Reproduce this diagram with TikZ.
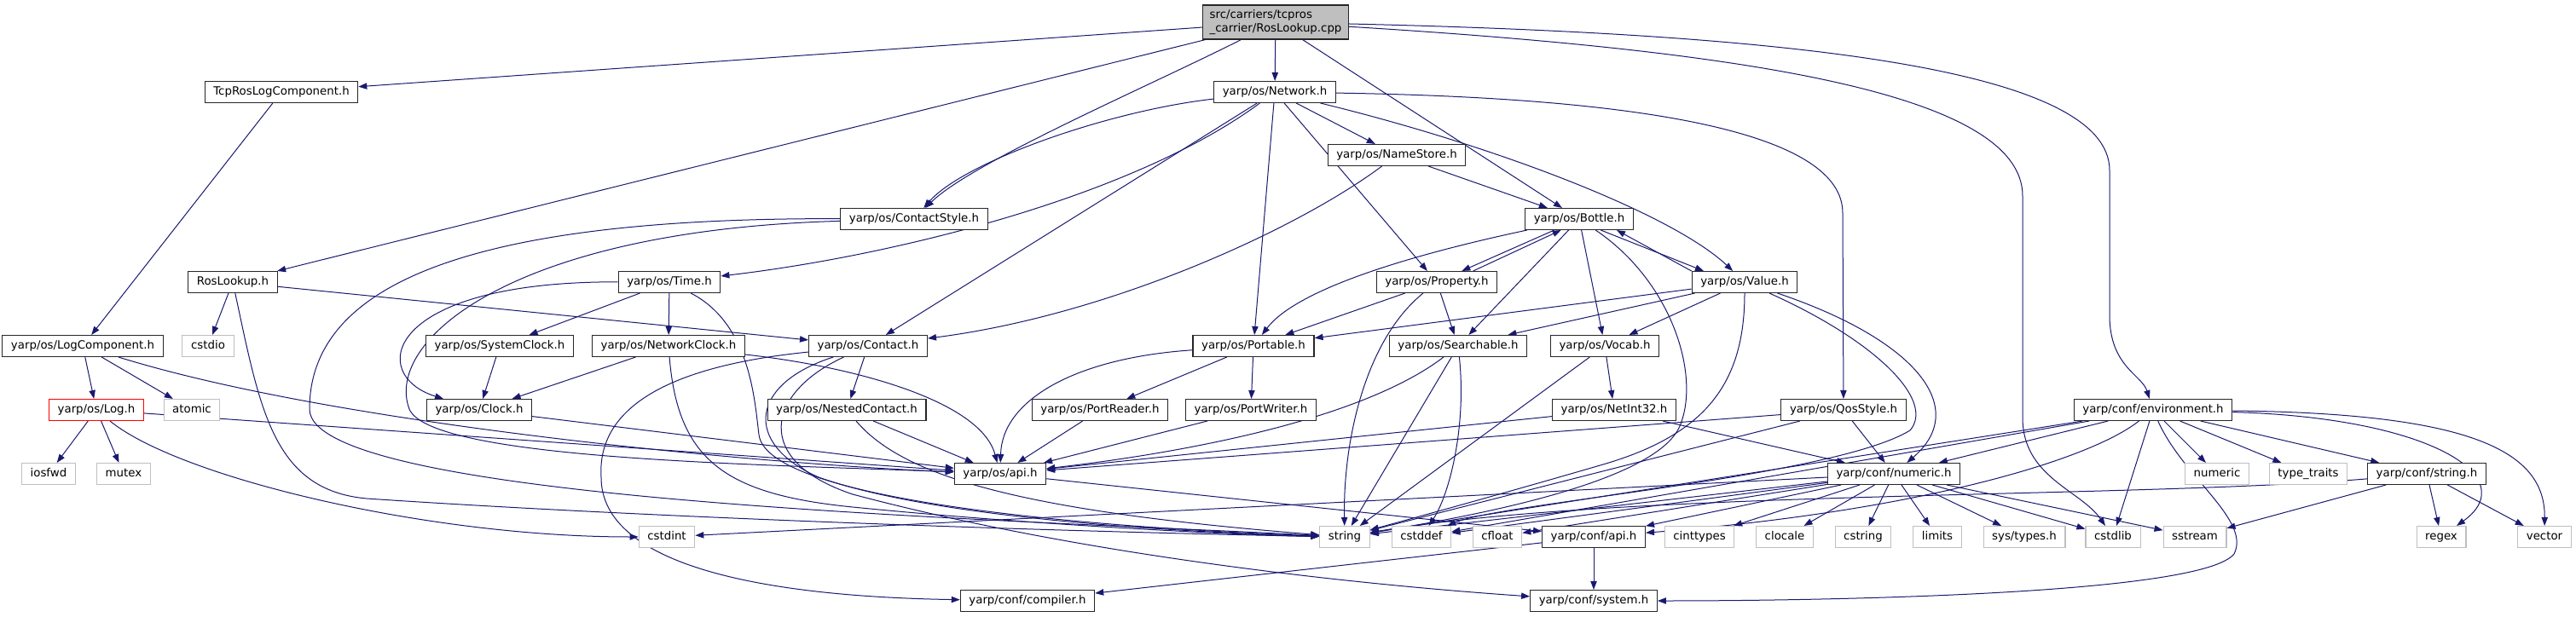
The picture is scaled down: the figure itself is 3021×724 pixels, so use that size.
\documentclass[tikz,border=0pt]{standalone}
\usepackage{fontspec}
\setmainfont{DejaVu Sans}
\usepackage{tikz}
\usetikzlibrary{arrows.meta,backgrounds}
\definecolor{edgeblue}{HTML}{191970}
\definecolor{boxgray}{HTML}{BFBFBF}
\tikzset{
  hdrbox/.style={draw=black!85, line width=0.8pt, fill=white, minimum height=18.75pt, inner xsep=7.6pt, inner ysep=0pt, text height=7.6pt, text depth=2.3pt},
  sysbox/.style={hdrbox, draw=boxgray},
  cutbox/.style={hdrbox, draw=red},
  rootbox/.style={draw=black!85, line width=0.8pt, fill=boxgray, align=left, minimum height=30pt, inner xsep=6pt, inner ysep=2pt},
  incl/.style={-{Triangle[length=7.5pt, width=5.5pt]}, draw=edgeblue, line width=0.75pt}
}

\begin{document}
\begin{tikzpicture}[x=0.75pt, y=-0.75pt, every node/.style={font=\fontsize{10}{12}\selectfont}]
      \useasboundingbox (0,0) rectangle (3021,724);
      \node[rootbox] (root) at (1496,26) {src/carriers/tcpros\\\_carrier/RosLookup.cpp};
      \node[hdrbox] (tcplog) at (330,108) {TcpRosLogComponent.h};
      \node[hdrbox] (network) at (1495,108) {yarp/os/Network.h};
      \node[hdrbox] (namestore) at (1638,182) {yarp/os/NameStore.h};
      \node[hdrbox] (cstyle) at (1072,257) {yarp/os/ContactStyle.h};
      \node[hdrbox] (bottle) at (1852,257) {yarp/os/Bottle.h};
      \node[hdrbox] (roslookup) at (273,331) {RosLookup.h};
      \node[hdrbox] (timeh) at (785,331) {yarp/os/Time.h};
      \node[hdrbox] (property) at (1685,331) {yarp/os/Property.h};
      \node[hdrbox] (value) at (2046,331) {yarp/os/Value.h};
      \node[hdrbox] (logcomp) at (97,406) {yarp/os/LogComponent.h};
      \node[sysbox] (cstdio) at (244,406) {cstdio};
      \node[hdrbox] (sysclock) at (586,406) {yarp/os/SystemClock.h};
      \node[hdrbox] (netclock) at (784,406) {yarp/os/NetworkClock.h};
      \node[hdrbox] (contact) at (1018,406) {yarp/os/Contact.h};
      \node[hdrbox] (portable) at (1470,406) {yarp/os/Portable.h};
      \node[hdrbox] (searchable) at (1710,406) {yarp/os/Searchable.h};
      \node[hdrbox] (vocab) at (1882,406) {yarp/os/Vocab.h};
      \node[cutbox] (logh) at (113,481) {yarp/os/Log.h};
      \node[sysbox] (atomic) at (225,481) {atomic};
      \node[hdrbox] (clock) at (562,481) {yarp/os/Clock.h};
      \node[hdrbox] (nested) at (993,481) {yarp/os/NestedContact.h};
      \node[hdrbox] (preader) at (1290,481) {yarp/os/PortReader.h};
      \node[hdrbox] (pwriter) at (1467,481) {yarp/os/PortWriter.h};
      \node[hdrbox] (netint) at (1893,481) {yarp/os/NetInt32.h};
      \node[hdrbox] (qos) at (2162,481) {yarp/os/QosStyle.h};
      \node[hdrbox] (environ) at (2525,481) {yarp/conf/environment.h};
      \node[sysbox] (iosfwd) at (57,556) {iosfwd};
      \node[sysbox] (mutex) at (145,556) {mutex};
      \node[hdrbox] (osapi) at (1173,556) {yarp/os/api.h};
      \node[hdrbox] (numerich) at (2221,556) {yarp/conf/numeric.h};
      \node[sysbox] (numeric) at (2600,556) {numeric};
      \node[sysbox] (typetraits) at (2707,556) {type\_traits};
      \node[hdrbox] (confstring) at (2846,556) {yarp/conf/string.h};
      \node[sysbox] (cstdint) at (782,630) {cstdint};
      \node[sysbox] (string) at (1577,630) {string};
      \node[sysbox] (cstddef) at (1667,630) {cstddef};
      \node[sysbox] (cfloat) at (1756,630) {cfloat};
      \node[hdrbox] (confapi) at (1869,630) {yarp/conf/api.h};
      \node[sysbox] (cinttypes) at (1993,630) {cinttypes};
      \node[sysbox] (clocale) at (2093,630) {clocale};
      \node[sysbox] (cstring) at (2185,630) {cstring};
      \node[sysbox] (limits) at (2272,630) {limits};
      \node[sysbox] (systypes) at (2374,630) {sys/types.h};
      \node[sysbox] (cstdlib) at (2478,630) {cstdlib};
      \node[sysbox] (sstream) at (2574,630) {sstream};
      \node[sysbox] (regex) at (2863,630) {regex};
      \node[sysbox] (vector) at (2984,630) {vector};
      \node[hdrbox] (compiler) at (1205,705) {yarp/conf/compiler.h};
      \node[hdrbox] (system) at (1869,705) {yarp/conf/system.h};
      \begin{pgfonlayer}{background}
      % RosLookup.cpp
      \draw[incl] (root) -- (tcplog);
      \draw[incl] (root) -- (roslookup);
      \draw[incl] (root) .. controls (1350,100) and (1140,190) .. (cstyle);
      \draw[incl] (root) -- (network);
      \draw[incl] (root) -- (bottle);
      \draw[incl] (root) .. controls (2100,40) and (2474,80) .. (2474,200) -- (2474,370) .. controls (2474,430) and (2512,440) .. (environ);
      \draw[incl] (root) .. controls (2050,60) and (2372,110) .. (2372,230) -- (2372,490) .. controls (2372,560) and (2440,575) .. (cstdlib);
      % Network.h
      \draw[incl] (network) .. controls (1300,130) and (1130,190) .. (cstyle);
      \draw[incl] (network) .. controls (1330,230) and (1050,300) .. (timeh);
      \draw[incl] (network) -- (contact);
      \draw[incl] (network) -- (portable);
      \draw[incl] (network) -- (property);
      \draw[incl] (network) -- (namestore);
      \draw[incl] (network) .. controls (1750,170) and (1960,250) .. (value);
      \draw[incl] (network) .. controls (1950,115) and (2161,160) .. (2161,250) -- (qos);
      \draw[incl] (namestore) .. controls (1520,270) and (1300,370) .. (contact);
      \draw[incl] (namestore) -- (bottle);
      % log side
      \draw[incl] (tcplog) -- (logcomp);
      \draw[incl] (roslookup) -- (contact);
      \draw[incl] (roslookup) -- (cstdio);
      \draw[incl] (roslookup) .. controls (305,480) and (320,575) .. (430,585) .. controls (800,610) and (1300,625) .. (string);
      \draw[incl] (logcomp) -- (logh);
      \draw[incl] (logcomp) -- (atomic);
      \draw[incl] (logcomp) .. controls (400,500) and (900,545) .. (osapi);
      \draw[incl] (logh) -- (iosfwd);
      \draw[incl] (logh) -- (mutex);
      \draw[incl] (logh) .. controls (210,560) and (500,630) .. (cstdint);
      \draw[incl] (logh) -- (osapi);
      % clocks
      \draw[incl] (timeh) .. controls (450,330) and (430,440) .. (clock);
      \draw[incl] (timeh) -- (sysclock);
      \draw[incl] (timeh) -- (netclock);
      \draw[incl] (timeh) .. controls (880,380) and (885,470) .. (890,510) .. controls (900,590) and (1300,620) .. (string);
      \draw[incl] (sysclock) -- (clock);
      \draw[incl] (netclock) -- (clock);
      \draw[incl] (netclock) .. controls (1000,430) and (1150,470) .. (osapi);
      \draw[incl] (netclock) .. controls (795,540) and (850,580) .. (1000,595) .. controls (1200,615) and (1450,628) .. (string);
      \draw[incl] (clock) -- (osapi);
      % contacts
      \draw[incl] (cstyle) .. controls (600,270) and (450,400) .. (480,480) .. controls (505,540) and (900,545) .. (osapi);
      \draw[incl] (cstyle) .. controls (560,255) and (363,330) .. (363,480) .. controls (363,590) and (1200,610) .. (string);
      \draw[incl] (contact) -- (nested);
      \draw[incl] (contact) .. controls (780,430) and (700,480) .. (705,560) .. controls (705,665) and (900,700) .. (compiler);
      \draw[incl] (contact) .. controls (880,450) and (870,520) .. (960,560) .. controls (1100,610) and (1400,625) .. (string);
      \draw[incl] (contact) .. controls (900,460) and (880,540) .. (1000,580) .. controls (1300,660) and (1650,690) .. (system);
      \draw[incl] (nested) -- (osapi);
      \draw[incl] (nested) .. controls (1060,560) and (1200,600) .. (string);
      % ports
      \draw[incl] (portable) -- (preader);
      \draw[incl] (portable) -- (pwriter);
      \draw[incl] (portable) .. controls (1260,420) and (1175,470) .. (osapi);
      \draw[incl] (preader) -- (osapi);
      \draw[incl] (pwriter) -- (osapi);
      % Bottle, Property, Value
      \draw[incl] ([xshift=-22pt]bottle.south) -- ([xshift=22pt]property.north);
      \draw[incl] ([xshift=32pt]property.north) -- ([xshift=-16pt]bottle.south);
      \draw[incl] ([xshift=19pt]bottle.south) -- ([xshift=-36pt]value.north);
      \draw[incl] (value.north west) -- ([xshift=33pt]bottle.south);
      \draw[incl] (bottle) .. controls (1650,300) and (1520,340) .. (portable);
      \draw[incl] (bottle) -- (searchable);
      \draw[incl] (bottle) -- (vocab);
      \draw[incl] (bottle) .. controls (1960,330) and (1995,440) .. (1970,500) .. controls (1940,570) and (1700,610) .. (string);
      \draw[incl] (property) -- (portable);
      \draw[incl] (property) -- (searchable);
      \draw[incl] (property) .. controls (1600,400) and (1575,520) .. (string);
      \draw[incl] (value) -- (portable);
      \draw[incl] (value) -- (searchable);
      \draw[incl] (value) -- (vocab);
      \draw[incl] (value) .. controls (2046,450) and (2000,510) .. (1880,545) .. controls (1760,580) and (1650,610) .. (string);
      \draw[incl] (value) .. controls (2200,400) and (2270,470) .. (2240,505) .. controls (2150,560) and (1760,590) .. (cstddef);
      \draw[incl] (value) .. controls (2250,400) and (2310,480) .. (numerich);
      \draw[incl] (searchable) .. controls (1600,490) and (1400,530) .. (osapi);
      \draw[incl] (searchable) -- (string);
      \draw[incl] (searchable) .. controls (1720,500) and (1700,580) .. (cstddef);
      \draw[incl] (vocab) -- (netint);
      \draw[incl] (vocab) -- (string);
      \draw[incl] (netint) -- (osapi);
      \draw[incl] (netint) -- (numerich);
      \draw[incl] (qos) -- (osapi);
      \draw[incl] (qos) -- (string);
      \draw[incl] (qos) -- (numerich);
      \draw[incl] (osapi) -- (confapi);
      % numeric.h
      \draw[incl] (numerich) -- (string);
      \draw[incl] (numerich) -- (cstddef);
      \draw[incl] (numerich) -- (cfloat);
      \draw[incl] (numerich) -- (confapi);
      \draw[incl] (numerich) -- (cinttypes);
      \draw[incl] (numerich) -- (clocale);
      \draw[incl] (numerich) -- (cstring);
      \draw[incl] (numerich) -- (limits);
      \draw[incl] (numerich) -- (systypes);
      \draw[incl] (numerich) -- (cstdlib);
      \draw[incl] (numerich) -- (sstream);
      \draw[incl] (numerich) -- (cstdint);
      % environment.h
      \draw[incl] (environ) -- (numerich);
      \draw[incl] (environ) -- (confstring);
      \draw[incl] (environ) -- (numeric);
      \draw[incl] (environ) -- (typetraits);
      \draw[incl] (environ) -- (cstdlib);
      \draw[incl] (environ) .. controls (2850,490) and (2960,560) .. (regex);
      \draw[incl] (environ) .. controls (2900,485) and (2985,530) .. (vector);
      \draw[incl] (environ) -- (string);
      \draw[incl] (environ) -- (cstddef);
      \draw[incl] (environ) .. controls (2450,540) and (2250,600) .. (confapi);
      \draw[incl] (environ) .. controls (2560,560) and (2640,610) .. (2620,650) .. controls (2580,700) and (2100,705) .. (system);
      \draw[incl] (confstring) -- (sstream);
      \draw[incl] (confstring) -- (regex);
      \draw[incl] (confstring) -- (vector);
      \draw[incl] (confstring) .. controls (2500,585) and (1900,575) .. (string);
      \draw[incl] (confapi) -- (compiler);
      \draw[incl] (confapi) -- (system);
      \end{pgfonlayer}
    \end{tikzpicture}
\end{document}
